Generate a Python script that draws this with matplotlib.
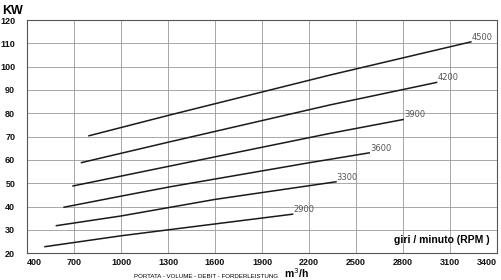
import matplotlib
matplotlib.use("Agg")
import matplotlib.pyplot as plt

# curve data: airflow (m3/h) vs power (kW) per rpm
rpm_labels = ["2900", "3300", "3600", "3900", "4200", "4500"]
flow_2900 = [510, 1000, 1377, 2100]
kw_2900 = [22.8, 27.5, 30.7, 36.8]
flow_3300 = [583, 1000, 1600, 2377]
kw_3300 = [31.8, 36.0, 43.1, 50.7]
flow_3600 = [632, 1000, 1313, 2200, 2589]
kw_3600 = [39.7, 44.5, 48.5, 58.8, 63.1]
flow_3900 = [689, 1313, 2334, 2806]
kw_3900 = [48.8, 57.4, 71.4, 77.4]
flow_4200 = [743, 1313, 2334, 3019]
kw_4200 = [58.8, 67.8, 83.6, 93.3]
flow_4500 = [791, 1313, 2334, 3238]
kw_4500 = [70.3, 79.3, 96.4, 110.7]

x_ticks = [400, 700, 1000, 1300, 1600, 1900, 2200, 2500, 2800, 3100, 3400]
y_ticks = [20, 30, 40, 50, 60, 70, 80, 90, 100, 110, 120]

curves = [
    (flow_2900, kw_2900),
    (flow_3300, kw_3300),
    (flow_3600, kw_3600),
    (flow_3900, kw_3900),
    (flow_4200, kw_4200),
    (flow_4500, kw_4500),
]

plt.rcParams['font.family'] = ['Liberation Sans', 'DejaVu Sans']

fig = plt.figure(figsize=(5.02, 2.80), dpi=100)
ax = fig.add_axes([27 / 502, 1 - 253.3 / 280, 470 / 502, 233.3 / 280])

for (xs, ys), lab in zip(curves, rpm_labels):
    ax.plot(xs, ys, color="#1a1a1a", lw=1.1, solid_capstyle="butt")
    ax.text(xs[-1], ys[-1], lab, fontsize=6, color="#555555",
            family="DejaVu Sans", ha="left", va="bottom")

ax.set_xlim(400, 3400)
ax.set_ylim(20, 120)
ax.set_xticks(x_ticks)
ax.set_yticks(y_ticks)
ax.grid(True, color="#9a9a9a", lw=0.6)
ax.tick_params(length=0, labelsize=6.5, colors="#111111")
ax.tick_params(axis="y", pad=8.5)
ax.tick_params(axis="x", pad=3.5)
for lbl in ax.get_yticklabels():
    lbl.set_fontweight("bold")
xl = ax.get_xticklabels()
for lbl in xl:
    lbl.set_fontweight("bold")
xl[0].set_ha("left")
xl[-1].set_ha("right")

for s in ax.spines.values():
    s.set_color("#555555")
    s.set_linewidth(0.8)

fig.text(2 / 502, 1 - 13.5 / 280, "KW", fontsize=9, fontweight="bold",
         ha="left", va="baseline")
ax.text(0.985, 0.035, "giri / minuto (RPM )", transform=ax.transAxes,
        fontsize=7.5, fontweight="bold", ha="right", va="bottom")
fig.text(278 / 502, 1 - 278 / 280, "PORTATA - VOLUME - DEBIT - FORDERLEISTUNG",
         fontsize=4.4, ha="right", va="baseline")
fig.text(284 / 502, 1 - 278.5 / 280, "m$^3$/h", fontsize=7.5, fontweight="bold",
         ha="left", va="baseline")

fig.savefig("out.png", dpi=100)
